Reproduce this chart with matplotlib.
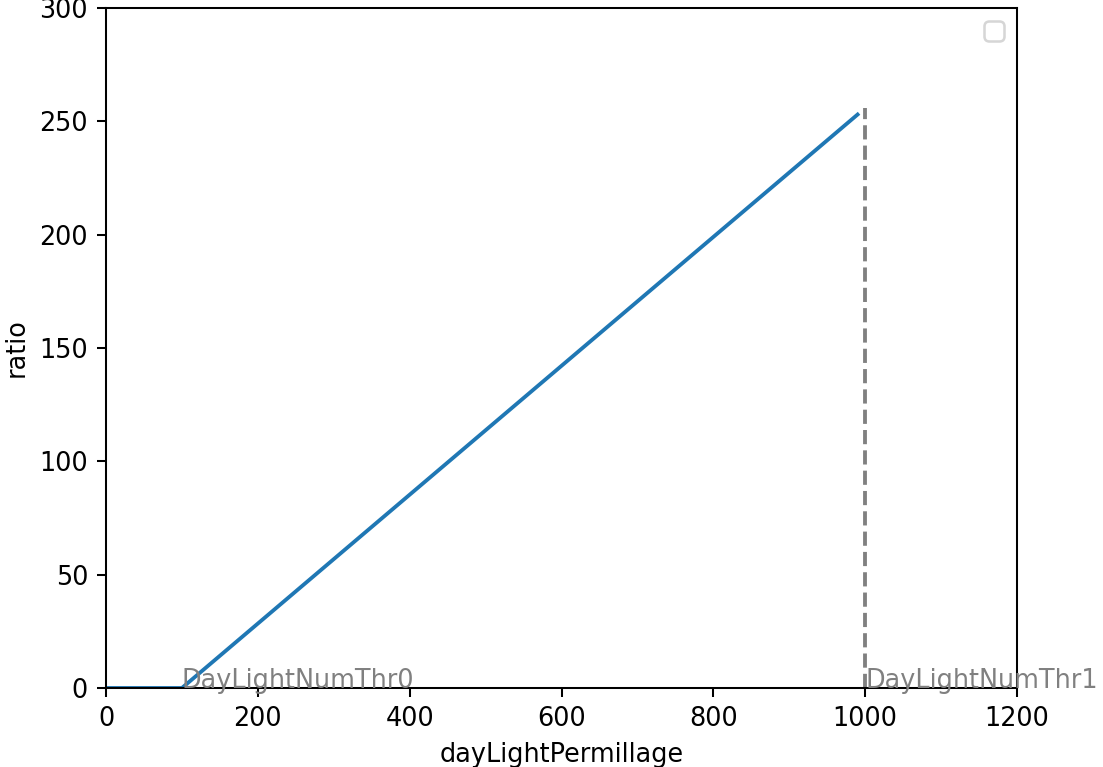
import matplotlib
matplotlib.use("Agg")
import matplotlib.pyplot as plt

plt.rcParams['font.family'] = ['DejaVu Sans']

# Data
x_vals = [0, 100, 990]
ratio_vals = [0, 0, 253]
thr_x = [100, 1000]
thr_labels = ["DayLightNumThr0", "DayLightNumThr1"]
thr1_top = 256

DPI = 184
fig = plt.figure(figsize=(1103 / DPI, 767 / DPI), dpi=DPI)
W, H = 1103, 767
left, right, top, bottom = 106, 1017, 8, 688
ax = fig.add_axes([left / W, 1 - bottom / H, (right - left) / W, (bottom - top) / H])

ax.plot(x_vals, ratio_vals)
ax.vlines(thr_x[1], 0, thr1_top, colors="gray", linestyles="--")
for xv, lab in zip(thr_x, thr_labels):
    ax.text(xv, 0, lab, color="gray")

ax.set_xlim(0, 1200)
ax.set_ylim(0, 300)
ax.set_xlabel("dayLightPermillage")
ax.set_ylabel("ratio")
ax.legend()

fig.savefig("out.png", dpi=DPI)
